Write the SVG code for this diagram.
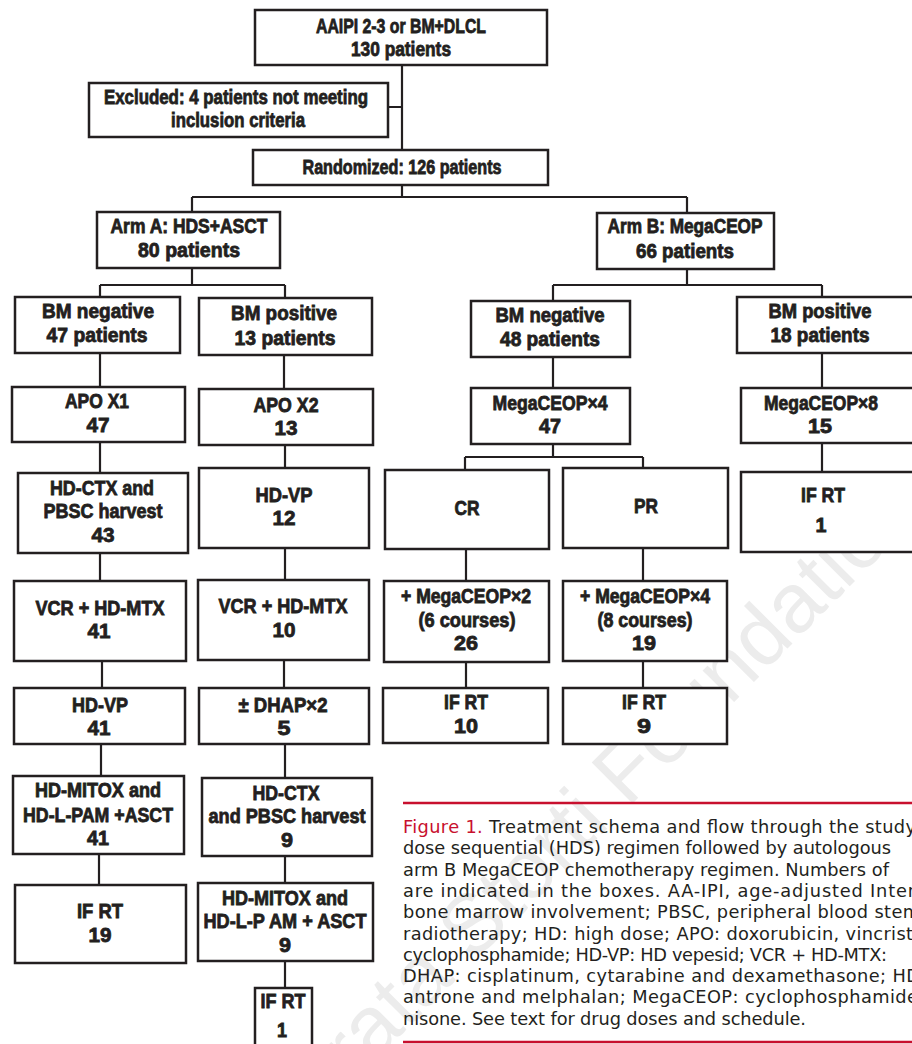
<svg xmlns="http://www.w3.org/2000/svg" width="912" height="1044" viewBox="0 0 912 1044">
<style>
.box{fill:#ffffff;stroke:#231f20;stroke-width:2.5}
.t{font-family:"Liberation Sans",Arial,sans-serif;font-weight:bold;font-size:20px;fill:#231f20;stroke:#231f20;stroke-width:0.8}
.conn{stroke:#231f20;stroke-width:2.2;fill:none}
.cap{font-family:"DejaVu Sans","Liberation Sans",sans-serif;font-size:17.8px;fill:#231f20}
.red{fill:#c8102e}
.rule{stroke:#c8102e;stroke-width:2.5}
.wm{font-family:"Liberation Sans",Arial,sans-serif;font-size:84px;fill:#ececec}
</style>
<rect x="0" y="0" width="912" height="1044" fill="#ffffff"/>
<text class="wm" x="925" y="511" text-anchor="end" transform="rotate(-45 925 511)">© Ferrata Storti Foundation</text>

<g id="connectors">
<path class="conn" d="M402,65 V150 M388,107 H402 M402,185 V197 M192,197 H687 M192,197 V212 M687,197 V213"/>
<path class="conn" d="M192,268 V285 M100,285 H285 M100,285 V297 M285,285 V298"/>
<path class="conn" d="M100,353 V387 M284,355 V389 M100,442 V473 M285,445 V468 M100,553 V581 M285,548 V580"/>
<path class="conn" d="M102,661 V688 M284,660 V688 M101,744 V776 M285,744 V778 M99,854 V885 M285,856 V883 M285,961 V988"/>
<path class="conn" d="M687,269 V285 M553,285 H822 M553,285 V301 M822,285 V297 M553,357 V388 M822,353 V388"/>
<path class="conn" d="M553,444 V457 M465,457 H643 M465,457 V470 M643,457 V468 M822,443 V472 M466,549 V581 M643,548 V581 M466,662 V688 M643,661 V688"/>
</g>

<g id="n-top"><rect class="box" x="255" y="10" width="292" height="55"/>
<text class="t" x="316" y="33" textLength="170" lengthAdjust="spacingAndGlyphs">AAIPI 2-3 or BM+DLCL</text>
<text class="t" x="351" y="56" textLength="100" lengthAdjust="spacingAndGlyphs">130 patients</text></g>

<g id="n-excluded"><rect class="box" x="89" y="83" width="299" height="54"/>
<text class="t" x="104" y="104" textLength="264" lengthAdjust="spacingAndGlyphs">Excluded: 4 patients not meeting</text>
<text class="t" x="171" y="127" textLength="134" lengthAdjust="spacingAndGlyphs">inclusion criteria</text></g>

<g id="n-random"><rect class="box" x="253" y="150" width="295" height="35"/>
<text class="t" x="302.5" y="174" textLength="199" lengthAdjust="spacingAndGlyphs">Randomized: 126 patients</text></g>

<g id="n-armA"><rect class="box" x="97" y="212" width="183" height="56"/>
<text class="t" x="110.5" y="233" textLength="157" lengthAdjust="spacingAndGlyphs">Arm A: HDS+ASCT</text>
<text class="t" x="138" y="257" textLength="102" lengthAdjust="spacingAndGlyphs">80 patients</text></g>

<g id="n-bmnegA"><rect class="box" x="15" y="297" width="165" height="56"/>
<text class="t" x="42" y="318" textLength="112" lengthAdjust="spacingAndGlyphs">BM negative</text>
<text class="t" x="46.5" y="342" textLength="101" lengthAdjust="spacingAndGlyphs">47 patients</text></g>

<g id="n-bmposA"><rect class="box" x="199" y="298" width="173" height="57"/>
<text class="t" x="231" y="320" textLength="106" lengthAdjust="spacingAndGlyphs">BM positive</text>
<text class="t" x="234.5" y="345" textLength="101" lengthAdjust="spacingAndGlyphs">13 patients</text></g>

<g id="n-apo1"><rect class="box" x="12" y="387" width="173" height="55"/>
<text class="t" x="65" y="408" textLength="64" lengthAdjust="spacingAndGlyphs">APO X1</text>
<text class="t" x="86.5" y="432" textLength="23" lengthAdjust="spacingAndGlyphs">47</text></g>

<g id="n-apo2"><rect class="box" x="199" y="389" width="174" height="56"/>
<text class="t" x="253.5" y="412" textLength="65" lengthAdjust="spacingAndGlyphs">APO X2</text>
<text class="t" x="274.5" y="435" textLength="23" lengthAdjust="spacingAndGlyphs">13</text></g>

<g id="n-hdctxA"><rect class="box" x="18" y="473" width="170" height="80"/>
<text class="t" x="50" y="495" textLength="104" lengthAdjust="spacingAndGlyphs">HD-CTX and</text>
<text class="t" x="43.5" y="518" textLength="119" lengthAdjust="spacingAndGlyphs">PBSC harvest</text>
<text class="t" x="91.5" y="542" textLength="23" lengthAdjust="spacingAndGlyphs">43</text></g>

<g id="n-hdvpB"><rect class="box" x="199" y="468" width="170" height="80"/>
<text class="t" x="255.5" y="502" textLength="57" lengthAdjust="spacingAndGlyphs">HD-VP</text>
<text class="t" x="272.5" y="525" textLength="23" lengthAdjust="spacingAndGlyphs">12</text></g>

<g id="n-vcrA"><rect class="box" x="14" y="581" width="172" height="80"/>
<text class="t" x="35.5" y="615" textLength="129" lengthAdjust="spacingAndGlyphs">VCR + HD-MTX</text>
<text class="t" x="87.5" y="638" textLength="23" lengthAdjust="spacingAndGlyphs">41</text></g>

<g id="n-vcrB"><rect class="box" x="198" y="580" width="171" height="80"/>
<text class="t" x="218.5" y="613" textLength="129" lengthAdjust="spacingAndGlyphs">VCR + HD-MTX</text>
<text class="t" x="272.5" y="637" textLength="23" lengthAdjust="spacingAndGlyphs">10</text></g>

<g id="n-hdvpA"><rect class="box" x="14" y="688" width="171" height="56"/>
<text class="t" x="72" y="712" textLength="56" lengthAdjust="spacingAndGlyphs">HD-VP</text>
<text class="t" x="87.5" y="735" textLength="23" lengthAdjust="spacingAndGlyphs">41</text></g>

<g id="n-dhap"><rect class="box" x="199" y="688" width="170" height="56"/>
<text class="t" x="238.5" y="712" textLength="89" lengthAdjust="spacingAndGlyphs">± DHAP×2</text>
<text class="t" x="277.5" y="735" textLength="13" lengthAdjust="spacingAndGlyphs">5</text></g>

<g id="n-mitoxA"><rect class="box" x="13" y="776" width="171" height="78"/>
<text class="t" x="35" y="797" textLength="126" lengthAdjust="spacingAndGlyphs">HD-MITOX and</text>
<text class="t" x="23" y="822" textLength="150" lengthAdjust="spacingAndGlyphs">HD-L-PAM +ASCT</text>
<text class="t" x="87" y="845" textLength="22" lengthAdjust="spacingAndGlyphs">41</text></g>

<g id="n-hdctxB"><rect class="box" x="202" y="778" width="170" height="78"/>
<text class="t" x="252.5" y="800" textLength="67" lengthAdjust="spacingAndGlyphs">HD-CTX</text>
<text class="t" x="208.5" y="823" textLength="157" lengthAdjust="spacingAndGlyphs">and PBSC harvest</text>
<text class="t" x="281" y="847" textLength="12" lengthAdjust="spacingAndGlyphs">9</text></g>

<g id="n-ifrt19"><rect class="box" x="15" y="885" width="171" height="78"/>
<text class="t" x="77" y="918" textLength="46" lengthAdjust="spacingAndGlyphs">IF RT</text>
<text class="t" x="88.5" y="942" textLength="23" lengthAdjust="spacingAndGlyphs">19</text></g>

<g id="n-mitoxB"><rect class="box" x="198" y="883" width="175" height="78"/>
<text class="t" x="222" y="905" textLength="126" lengthAdjust="spacingAndGlyphs">HD-MITOX and</text>
<text class="t" x="203.5" y="928" textLength="163" lengthAdjust="spacingAndGlyphs">HD-L-P AM + ASCT</text>
<text class="t" x="279" y="952" textLength="12" lengthAdjust="spacingAndGlyphs">9</text></g>

<g id="n-ifrt1A"><rect class="box" x="255" y="988" width="57" height="70"/>
<text class="t" x="260.5" y="1008" textLength="45" lengthAdjust="spacingAndGlyphs">IF RT</text>
<text class="t" x="277" y="1037" textLength="10" lengthAdjust="spacingAndGlyphs">1</text></g>

<g id="n-armB"><rect class="box" x="597" y="213" width="177" height="56"/>
<text class="t" x="607.5" y="233" textLength="155" lengthAdjust="spacingAndGlyphs">Arm B: MegaCEOP</text>
<text class="t" x="636" y="258" textLength="98" lengthAdjust="spacingAndGlyphs">66 patients</text></g>

<g id="n-bmnegB"><rect class="box" x="471" y="301" width="159" height="56"/>
<text class="t" x="495.5" y="322" textLength="109" lengthAdjust="spacingAndGlyphs">BM negative</text>
<text class="t" x="500" y="346" textLength="100" lengthAdjust="spacingAndGlyphs">48 patients</text></g>

<g id="n-bmposB"><rect class="box" x="737" y="297" width="185" height="56"/>
<text class="t" x="768.5" y="318" textLength="103" lengthAdjust="spacingAndGlyphs">BM positive</text>
<text class="t" x="770.5" y="342" textLength="99" lengthAdjust="spacingAndGlyphs">18 patients</text></g>

<g id="n-mega4"><rect class="box" x="471" y="388" width="159" height="56"/>
<text class="t" x="492.5" y="410" textLength="115" lengthAdjust="spacingAndGlyphs">MegaCEOP×4</text>
<text class="t" x="539" y="433" textLength="22" lengthAdjust="spacingAndGlyphs">47</text></g>

<g id="n-mega8"><rect class="box" x="741" y="388" width="181" height="55"/>
<text class="t" x="764" y="410" textLength="114" lengthAdjust="spacingAndGlyphs">MegaCEOP×8</text>
<text class="t" x="808" y="433" textLength="24" lengthAdjust="spacingAndGlyphs">15</text></g>

<g id="n-cr"><rect class="box" x="385" y="470" width="164" height="79"/>
<text class="t" x="454.5" y="515" textLength="25" lengthAdjust="spacingAndGlyphs">CR</text></g>

<g id="n-pr"><rect class="box" x="563" y="468" width="165" height="80"/>
<text class="t" x="634" y="513" textLength="24" lengthAdjust="spacingAndGlyphs">PR</text></g>

<g id="n-ifrt1B"><rect class="box" x="741" y="472" width="181" height="80"/>
<text class="t" x="801" y="502" textLength="44" lengthAdjust="spacingAndGlyphs">IF RT</text>
<text class="t" x="815.5" y="532" textLength="11" lengthAdjust="spacingAndGlyphs">1</text></g>

<g id="n-mega2plus"><rect class="box" x="384" y="581" width="165" height="81"/>
<text class="t" x="401" y="603" textLength="130" lengthAdjust="spacingAndGlyphs">+ MegaCEOP×2</text>
<text class="t" x="418.5" y="627" textLength="97" lengthAdjust="spacingAndGlyphs">(6 courses)</text>
<text class="t" x="454" y="650" textLength="24" lengthAdjust="spacingAndGlyphs">26</text></g>

<g id="n-mega4plus"><rect class="box" x="563" y="581" width="164" height="80"/>
<text class="t" x="580" y="603" textLength="130" lengthAdjust="spacingAndGlyphs">+ MegaCEOP×4</text>
<text class="t" x="597.5" y="627" textLength="95" lengthAdjust="spacingAndGlyphs">(8 courses)</text>
<text class="t" x="632" y="650" textLength="24" lengthAdjust="spacingAndGlyphs">19</text></g>

<g id="n-ifrt10"><rect class="box" x="383" y="688" width="165" height="55"/>
<text class="t" x="444" y="709" textLength="44" lengthAdjust="spacingAndGlyphs">IF RT</text>
<text class="t" x="454" y="733" textLength="24" lengthAdjust="spacingAndGlyphs">10</text></g>

<g id="n-ifrt9"><rect class="box" x="563" y="688" width="164" height="56"/>
<text class="t" x="622" y="709" textLength="44" lengthAdjust="spacingAndGlyphs">IF RT</text>
<text class="t" x="637" y="733" textLength="14" lengthAdjust="spacingAndGlyphs">9</text></g>

<g id="caption">
<line class="rule" x1="403" y1="803" x2="912" y2="803"/>
<line class="rule" x1="403" y1="1042" x2="912" y2="1042"/>
<text class="cap" x="403" y="833" textLength="513" lengthAdjust="spacing"><tspan class="red">Figure 1.</tspan> Treatment schema and flow through the study</text>
<text class="cap" x="403" y="854.3" textLength="488" lengthAdjust="spacing">dose sequential (HDS) regimen followed by autologous</text>
<text class="cap" x="403" y="875.6" textLength="486" lengthAdjust="spacing">arm B MegaCEOP chemotherapy regimen. Numbers of</text>
<text class="cap" x="403" y="896.9" textLength="512" lengthAdjust="spacing">are indicated in the boxes. AA-IPI, age-adjusted Inter</text>
<text class="cap" x="403" y="918.2" textLength="517" lengthAdjust="spacing">bone marrow involvement; PBSC, peripheral blood stem</text>
<text class="cap" x="403" y="939.5" textLength="510" lengthAdjust="spacing">radiotherapy; HD: high dose; APO: doxorubicin, vincrist</text>
<text class="cap" x="403" y="960.8" textLength="484" lengthAdjust="spacing">cyclophosphamide; HD-VP: HD vepesid; VCR + HD-MTX:</text>
<text class="cap" x="403" y="982.1" textLength="517" lengthAdjust="spacing">DHAP: cisplatinum, cytarabine and dexamethasone; HD</text>
<text class="cap" x="403" y="1003.4" textLength="515" lengthAdjust="spacing">antrone and melphalan; MegaCEOP: cyclophosphamide</text>
<text class="cap" x="403" y="1024.7" textLength="403" lengthAdjust="spacing">nisone. See text for drug doses and schedule.</text>
</g>
</svg>
